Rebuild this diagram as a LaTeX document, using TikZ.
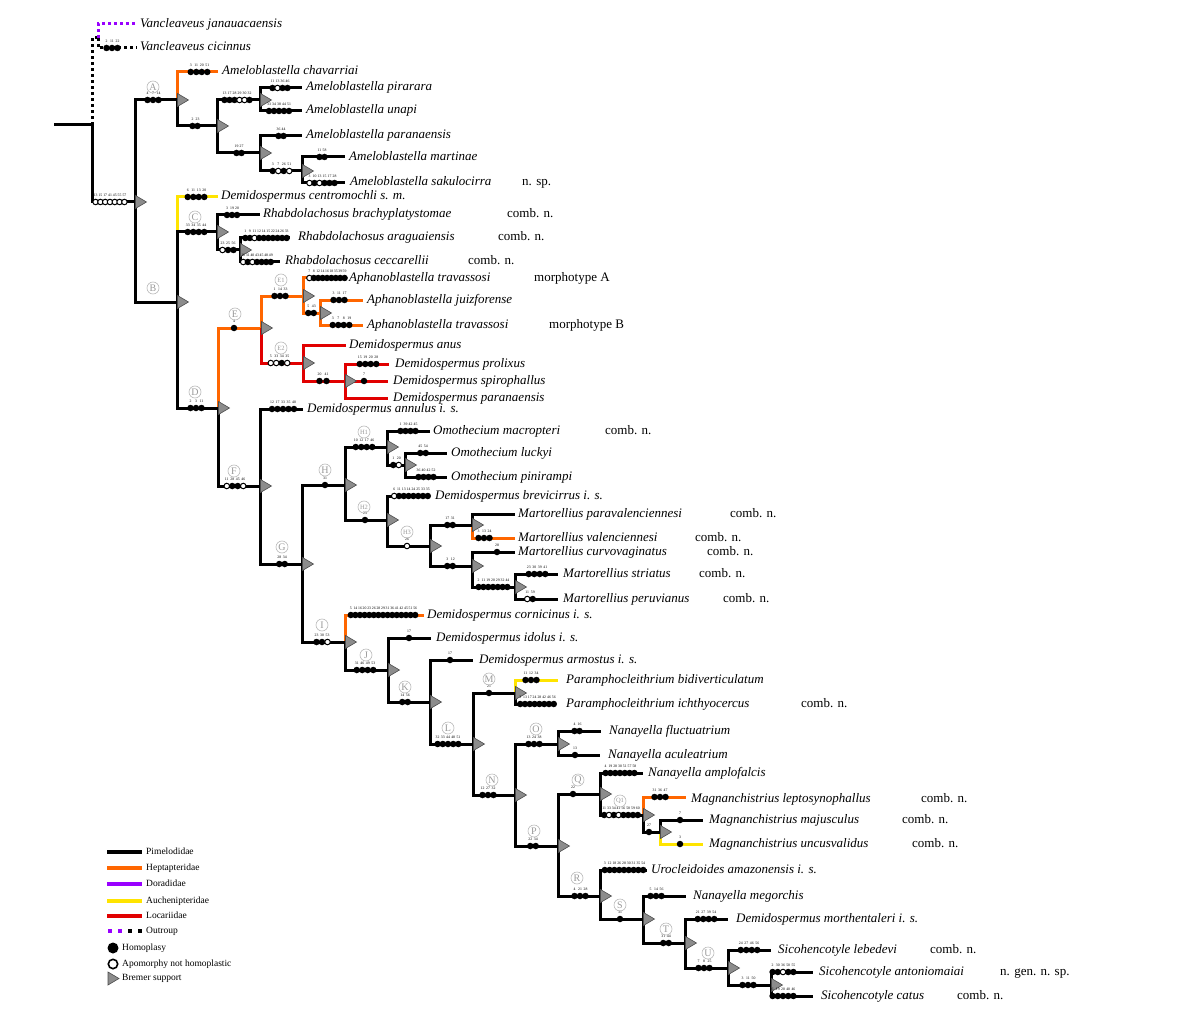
\documentclass[tikz,border=0pt]{standalone}
\usepackage{fontspec}
\setmainfont{Liberation Serif}
\usetikzlibrary{positioning}
\definecolor{hep}{RGB}{255,102,0}
\definecolor{dor}{RGB}{153,0,255}
\definecolor{auc}{RGB}{255,228,0}
\definecolor{loc}{RGB}{225,0,0}
\newcommand\charmarks[4]{%
  \foreach \t/\l [count=\k] in {#4}{\xdef\chrn{\k}}%
  \foreach \t/\l [count=\k] in {#4}{%
    \pgfmathsetmacro\cx{#1+(\k-(\chrn+1)/2)*#3}%
    \node[mk\t] at (\cx,#2) {};
    \node[num] at (\cx,#2-7) {\l};
  }}
\newcommand\brem[1]{\path[bremer] (#1) ++(0.5,-6.5) -- ++(11,6.5) -- ++(-11,6.5) -- cycle;}
\begin{document}
\begin{tikzpicture}[x=1pt,y=-1pt,
 br/.style={line width=3pt,black},
 hp/.style={line width=3pt,hep},
 ye/.style={line width=3pt,auc},
 lc/.style={line width=3pt,loc},
 ogb/.style={line width=3pt,black,dash pattern=on 3pt off 3pt},
 ogp/.style={line width=3pt,dor,dash pattern=on 3pt off 3pt},
 taxon/.style={anchor=west,inner sep=0pt,text height=9pt,text depth=3pt,font=\fontsize{13}{13}\selectfont\itshape},
 note/.style={anchor=west,inner sep=0pt,text height=9pt,text depth=3pt,font=\fontsize{13}{13}\selectfont},
 legt/.style={anchor=west,inner sep=0pt,text height=7pt,text depth=2pt,font=\fontsize{9.5}{10}\selectfont},
 clab/.style={circle,draw=gray!55,text=gray!80,line width=0.6pt,inner sep=0pt,minimum size=12pt,font=\fontsize{10}{10}\selectfont},
 clabs/.style={clab,font=\fontsize{6.5}{7}\selectfont},
 mkf/.style={circle,fill=black,inner sep=0pt,minimum size=6.5pt},
 mko/.style={circle,draw=black,fill=white,line width=1pt,inner sep=0pt,minimum size=5.5pt},
 num/.style={inner sep=0pt,font=\fontsize{3.8}{4}\selectfont},
 bremer/.style={fill=black!45,draw=black!70,line width=0.6pt}]
\useasboundingbox (0,0) rectangle (1200,1011);
% ---------- coordinates ----------
\coordinate (stem) at (54,125);
\coordinate (root) at (92,125);
\coordinate (og) at (98,38);
\coordinate (ogJ) at (137,24);
\coordinate (ogC) at (137,48);
\coordinate (ing) at (135,202);
\coordinate (nA) at (177,100);
\coordinate (tChav) at (218,72);
\coordinate (nA2) at (217,126);
\coordinate (nA3) at (260,100);
\coordinate (tPir) at (302,88);
\coordinate (tUna) at (302,111);
\coordinate (nA4) at (260,153);
\coordinate (tPara) at (302,136);
\coordinate (nA5) at (302,171);
\coordinate (tMart) at (345,157);
\coordinate (tSak) at (345,183);
\coordinate (nB) at (177,302);
\coordinate (tCent) at (218,197);
\coordinate (nC) at (217,232);
\coordinate (tBrach) at (260,215);
\coordinate (nC2) at (240,250);
\coordinate (tArag) at (290,238);
\coordinate (tCecc) at (280,262);
\coordinate (nD) at (218,408);
\coordinate (nE) at (261,328);
\coordinate (nE1) at (303,296);
\coordinate (tTravA) at (347,278);
\coordinate (nE1b) at (320,313);
\coordinate (tJuiz) at (363,300);
\coordinate (tTravB) at (363,325);
\coordinate (nE2) at (303,363);
\coordinate (tAnus) at (346,345);
\coordinate (nE3) at (345,381);
\coordinate (tProl) at (389,364);
\coordinate (tSpir) at (388,381);
\coordinate (tDpar) at (388,398);
\coordinate (nF) at (260,486);
\coordinate (tAnn) at (303,409);
\coordinate (nG) at (302,564);
\coordinate (nH) at (345,485);
\coordinate (nH1) at (387,447);
\coordinate (tMacr) at (430,431);
\coordinate (nH1b) at (405,465);
\coordinate (tLuck) at (447,453);
\coordinate (tPini) at (447,477);
\coordinate (nH2) at (387,520);
\coordinate (tBrev) at (430,496);
\coordinate (nH3) at (430,546);
\coordinate (nM1) at (472,525);
\coordinate (tParav) at (515,514);
\coordinate (tVal) at (515,538);
\coordinate (nM2) at (472,566);
\coordinate (tCurv) at (515,552);
\coordinate (nM3) at (515,587);
\coordinate (tStri) at (558,574);
\coordinate (tPeru) at (558,599);
\coordinate (nI) at (345,642);
\coordinate (tCorn) at (424,615);
\coordinate (nJ) at (388,670);
\coordinate (tIdol) at (431,638);
\coordinate (nK) at (430,702);
\coordinate (tArmo) at (473,660);
\coordinate (nL) at (473,744);
\coordinate (nM) at (515,693);
\coordinate (tBidi) at (558,680);
\coordinate (tIcht) at (555,704);
\coordinate (nN) at (515,795);
\coordinate (nO) at (558,744);
\coordinate (tFluc) at (601,731);
\coordinate (tAcul) at (600,755);
\coordinate (nP) at (558,846);
\coordinate (nQ) at (600,794);
\coordinate (tAmpl) at (643,773);
\coordinate (nQ1) at (643,815);
\coordinate (tLept) at (686,797);
\coordinate (nQ2) at (660,832);
\coordinate (tMaju) at (703,820);
\coordinate (tUncu) at (703,844);
\coordinate (nR) at (600,896);
\coordinate (tAmaz) at (647,870);
\coordinate (nS) at (643,919);
\coordinate (tMego) at (686,896);
\coordinate (nT) at (685,943);
\coordinate (tMort) at (728,919);
\coordinate (nU) at (728,968);
\coordinate (tLebe) at (771,950);
\coordinate (nU2) at (771,985);
\coordinate (tAnto) at (813,972);
\coordinate (tCatu) at (813,996);
% ---------- outgroup ----------
\draw[ogb] (root) |- (og);
\draw[ogp] (og) |- (ogJ);
\draw[ogb] (og) |- (ogC);
\draw[br] (stem) -- (root);
\draw[br] (root) |- (ing);
% ---------- coloured branches first ----------
\draw[hp] (nA) |- (tChav);
\draw[ye] (nB) |- (tCent);
\draw[hp] (nD) |- (nE);
\draw[hp] (nE) |- (nE1);
\draw[lc] (nE) |- (nE2);
\draw[hp] (nE1) |- (tTravA);
\draw[hp] (nE1) |- (nE1b);
\draw[hp] (nE1b) |- (tJuiz);
\draw[hp] (nE1b) |- (tTravB);
\draw[lc] (nE2) |- (tAnus);
\draw[lc] (nE2) |- (nE3);
\draw[lc] (nE3) |- (tProl);
\draw[lc] (nE3) |- (tSpir);
\draw[lc] (nE3) |- (tDpar);
\draw[hp] (nM1) |- (tVal);
\draw[hp] (nI) |- (tCorn);
\draw[ye] (nM) |- (tBidi);
\draw[hp] (nQ1) |- (tLept);
\draw[ye] (nQ2) |- (tUncu);
% ---------- black branches ----------
\draw[br] (ing) |- (nA);
\draw[br] (ing) |- (nB);
\draw[br] (nA) |- (nA2);
\draw[br] (nA2) |- (nA3);
\draw[br] (nA3) |- (tPir);
\draw[br] (nA3) |- (tUna);
\draw[br] (nA2) |- (nA4);
\draw[br] (nA4) |- (tPara);
\draw[br] (nA4) |- (nA5);
\draw[br] (nA5) |- (tMart);
\draw[br] (nA5) |- (tSak);
\draw[br] (nB) |- (nC);
\draw[br] (nC) |- (tBrach);
\draw[br] (nC) |- (nC2);
\draw[br] (nC2) |- (tArag);
\draw[br] (nC2) |- (tCecc);
\draw[br] (nB) |- (nD);
\draw[br] (nD) |- (nF);
\draw[br] (nF) |- (tAnn);
\draw[br] (nF) |- (nG);
\draw[br] (nG) |- (nH);
\draw[br] (nH) |- (nH1);
\draw[br] (nH1) |- (tMacr);
\draw[br] (nH1) |- (nH1b);
\draw[br] (nH1b) |- (tLuck);
\draw[br] (nH1b) |- (tPini);
\draw[br] (nH) |- (nH2);
\draw[br] (nH2) |- (tBrev);
\draw[br] (nH2) |- (nH3);
\draw[br] (nH3) |- (nM1);
\draw[br] (nM1) |- (tParav);
\draw[br] (nH3) |- (nM2);
\draw[br] (nM2) |- (tCurv);
\draw[br] (nM2) |- (nM3);
\draw[br] (nM3) |- (tStri);
\draw[br] (nM3) |- (tPeru);
\draw[br] (nG) |- (nI);
\draw[br] (nI) |- (nJ);
\draw[br] (nJ) |- (tIdol);
\draw[br] (nJ) |- (nK);
\draw[br] (nK) |- (tArmo);
\draw[br] (nK) |- (nL);
\draw[br] (nL) |- (nM);
\draw[br] (nM) |- (tIcht);
\draw[br] (nL) |- (nN);
\draw[br] (nN) |- (nO);
\draw[br] (nO) |- (tFluc);
\draw[br] (nO) |- (tAcul);
\draw[br] (nN) |- (nP);
\draw[br] (nP) |- (nQ);
\draw[br] (nQ) |- (tAmpl);
\draw[br] (nQ) |- (nQ1);
\draw[br] (nQ1) |- (nQ2);
\draw[br] (nQ2) |- (tMaju);
\draw[br] (nP) |- (nR);
\draw[br] (nR) |- (tAmaz);
\draw[br] (nR) |- (nS);
\draw[br] (nS) |- (tMego);
\draw[br] (nS) |- (nT);
\draw[br] (nT) |- (tMort);
\draw[br] (nT) |- (nU);
\draw[br] (nU) |- (tLebe);
\draw[br] (nU) |- (nU2);
\draw[br] (nU2) |- (tAnto);
\draw[br] (nU2) |- (tCatu);
% ---------- Bremer triangles ----------
\foreach \c in {ing,nA,nA2,nA3,nA4,nA5,nB,nC,nC2,nD,nE,nE1,nE1b,nE2,nE3,nF,nG,nH,nH1,nH1b,nH2,nH3,nM1,nM2,nM3,nI,nJ,nK,nL,nM,nN,nO,nP,nQ,nQ1,nQ2,nR,nS,nT,nU,nU2}{\brem{\c}}
% ---------- character marks ----------
\charmarks{112}{48}{5.5}{f/2,f/11,f/22}
\charmarks{110}{202}{4.8}{o/13,o/15,o/17,o/41,o/45,o/55,o/57}
\charmarks{153}{100}{5.5}{f/4,f/7,f/14}
\charmarks{199}{72}{5.5}{f/3,f/11,f/20,f/51}
\charmarks{195}{126}{5}{f/2,f/23}
\charmarks{237}{100}{5}{f/13,f/17,f/28,o/29,o/30,f/32}
\charmarks{280}{88}{5}{f/11,o/13,f/36,f/46}
\charmarks{279}{111}{5}{f/33,f/34,f/38,f/44,f/51}
\charmarks{239}{153}{5}{f/19,f/27}
\charmarks{281}{136}{5}{f/36,f/44}
\charmarks{281}{171}{5.5}{f/3,o/7,f/26,o/51}
\charmarks{322}{157}{5}{f/11,f/58}
\charmarks{322}{183}{5}{o/3,f/10,o/13,f/15,f/17,f/28}
\charmarks{196}{197}{5.5}{f/6,f/11,f/13,f/20}
\charmarks{196}{232}{5.5}{f/33,f/34,f/35,f/44}
\charmarks{232}{215}{5}{f/3,f/19,f/20}
\charmarks{228}{250}{5.5}{o/23,f/25,f/56}
\charmarks{266}{238}{4.6}{f/1,f/9,o/11,f/12,f/14,f/15,f/22,f/24,f/26,f/33}
\charmarks{257}{262}{4.6}{o/16,f/31,o/40,f/43,f/45,f/48,f/49}
\charmarks{196}{408}{5.5}{f/2,f/3,f/11}
\charmarks{234}{328}{5}{f/4}
\charmarks{280}{296}{5.5}{f/1,f/14,f/33}
\charmarks{327}{278}{4.4}{o/7,f/8,f/12,f/14,f/16,f/18,f/35,f/39,f/59}
\charmarks{311}{313}{5.5}{f/5,f/43}
\charmarks{339}{300}{5.5}{f/3,f/11,f/17}
\charmarks{341}{325}{5.5}{f/3,f/7,f/8,f/19}
\charmarks{279}{363}{5.5}{o/5,o/33,f/34,o/35}
\charmarks{323}{381}{7}{f/20,f/41}
\charmarks{368}{364}{5.5}{f/15,f/19,f/20,f/28}
\charmarks{364}{381}{5}{f/7}
\charmarks{235}{486}{5.5}{o/11,f/28,f/45,o/46}
\charmarks{283}{409}{5.5}{f/12,f/17,f/33,f/35,f/40}
\charmarks{282}{564}{5.5}{f/28,f/34}
\charmarks{325}{485}{5}{f/31}
\charmarks{364}{447}{5.5}{f/10,f/12,f/17,f/46}
\charmarks{408}{431}{5}{f/1,f/39,f/42,f/45}
\charmarks{396}{465}{5.5}{f/1,o/20}
\charmarks{423}{453}{5.5}{f/45,f/54}
\charmarks{426}{477}{5}{f/36,f/40,f/42,f/52}
\charmarks{365}{520}{5}{f/23}
\charmarks{411}{496}{4.8}{o/6,f/11,f/13,f/14,f/24,f/25,f/33,f/35}
\charmarks{407}{546}{5}{o/26}
\charmarks{450}{525}{5.5}{f/17,f/31}
\charmarks{484}{538}{5.5}{f/3,f/13,f/24}
\charmarks{450}{566}{5.5}{f/3,f/12}
\charmarks{497}{552}{5}{f/28}
\charmarks{493}{587}{4.8}{f/2,f/11,f/19,f/20,f/29,f/32,f/44}
\charmarks{537}{574}{5.5}{f/23,f/30,f/39,f/41}
\charmarks{530}{599}{5.5}{o/11,f/59}
\charmarks{322}{642}{5.5}{f/23,f/30,o/53}
\charmarks{383}{615}{4.6}{f/5,f/14,f/16,f/20,f/23,f/26,f/28,f/29,f/31,f/36,f/41,f/42,f/45,f/51,f/56}
\charmarks{365}{670}{5.5}{f/31,f/46,f/49,f/53}
\charmarks{409}{638}{5}{f/17}
\charmarks{405}{702}{5.5}{f/14,f/56}
\charmarks{450}{660}{5}{f/17}
\charmarks{448}{744}{5.2}{f/32,f/33,f/44,f/48,f/51}
\charmarks{489}{693}{5}{f/21}
\charmarks{531}{680}{5.5}{f/11,f/12,f/34}
\charmarks{537}{704}{4.8}{f/3,f/13,f/17,f/24,f/28,f/42,f/46,f/56}
\charmarks{534}{744}{5.5}{f/13,f/24,f/38}
\charmarks{577}{731}{5}{f/4,f/16}
\charmarks{575}{755}{5}{f/13}
\charmarks{488}{795}{5.5}{f/12,f/27,f/32}
\charmarks{533}{846}{5.5}{f/22,f/34}
\charmarks{573}{794}{5}{f/22}
\charmarks{620}{773}{4.8}{f/4,f/19,f/28,f/30,f/51,f/57,f/58}
\charmarks{621}{815}{4.8}{f/11,o/33,f/34,o/41,f/56,f/58,f/59,f/60}
\charmarks{660}{797}{5.5}{f/31,f/36,f/47}
\charmarks{649}{832}{5}{f/27}
\charmarks{680}{820}{5}{f/7}
\charmarks{680}{844}{5}{f/3}
\charmarks{580}{896}{5.5}{f/4,f/21,f/28}
\charmarks{624}{870}{4.8}{f/3,f/12,f/18,f/26,f/28,f/30,f/31,f/35,f/54}
\charmarks{620}{919}{5}{f/31}
\charmarks{656}{896}{5.5}{f/5,f/14,f/56}
\charmarks{666}{943}{5.5}{f/31,f/44}
\charmarks{706}{919}{5.5}{f/21,f/27,f/39,f/54}
\charmarks{704}{968}{5.5}{f/7,f/8,f/25}
\charmarks{749}{950}{5.5}{f/24,f/27,f/46,f/56}
\charmarks{748}{985}{5.5}{f/3,f/11,f/50}
\charmarks{783}{972}{5.2}{f/2,f/30,o/36,f/50,f/55}
\charmarks{783}{996}{5.2}{f/6,f/19,f/20,f/40,f/46}
% ---------- clade letters ----------
\node[clab] (cA) at (153,87) {A};
\node[clab] (cB) at (153,288) {B};
\node[clab] (cC) at (195,217) {C};
\node[clab] (cD) at (195,392) {D};
\node[clab] (cE) at (235,314) {E};
\node[clabs] (cE1) at (281,280) {E1};
\node[clabs] (cE2) at (281,348) {E2};
\node[clab] (cF) at (234,471) {F};
\node[clab] (cG) at (282,547) {G};
\node[clab] (cH) at (325,470) {H};
\node[clabs] (cH1) at (364,432) {H1};
\node[clabs] (cH2) at (364,507) {H2};
\node[clabs] (cH3) at (407,532) {H3};
\node[clab] (cI) at (322,625) {I};
\node[clab] (cJ) at (366,655) {J};
\node[clab] (cK) at (405,687) {K};
\node[clab] (cL) at (448,728) {L};
\node[clab] (cM) at (489,679) {M};
\node[clab] (cN) at (492,780) {N};
\node[clab] (cO) at (536,729) {O};
\node[clab] (cP) at (534,831) {P};
\node[clab] (cQ) at (578,780) {Q};
\node[clabs] (cQ1) at (620,801) {Q1};
\node[clab] (cR) at (577,878) {R};
\node[clab] (cS) at (620,905) {S};
\node[clab] (cT) at (666,929) {T};
\node[clab] (cU) at (708,953) {U};
% ---------- taxon labels ----------
\node[taxon] (lJan) at (140,25) {Vancleaveus janauacaensis};
\node[taxon] (lCic) at (140,48) {Vancleaveus cicinnus};
\node[taxon] (lChav) at (222,72) {Ameloblastella chavarriai};
\node[taxon] (lPir) at (306,88) {Ameloblastella pirarara};
\node[taxon] (lUna) at (306,111) {Ameloblastella unapi};
\node[taxon] (lPara) at (306,136) {Ameloblastella paranaensis};
\node[taxon] (lMart) at (349,158) {Ameloblastella martinae};
\node[taxon] (lSak) at (350,183) {Ameloblastella sakulocirra};
\node[note] (nSak) at (522,183) {n. sp.};
\node[taxon] (lCent) at (221,197) {Demidospermus centromochli s. m.};
\node[taxon] (lBrach) at (263,215) {Rhabdolachosus brachyplatystomae};
\node[note] (nBrach) at (507,215) {comb. n.};
\node[taxon] (lArag) at (298,238) {Rhabdolachosus araguaiensis};
\node[note] (nArag) at (498,238) {comb. n.};
\node[taxon] (lCecc) at (285,262) {Rhabdolachosus ceccarellii};
\node[note] (nCecc) at (468,262) {comb. n.};
\node[taxon] (lTravA) at (349,278) {Aphanoblastella travassosi};
\node[note] (nTravA) at (534,278) {morphotype A};
\node[taxon] (lJuiz) at (367,300) {Aphanoblastella juizforense};
\node[taxon] (lTravB) at (367,325) {Aphanoblastella travassosi};
\node[note] (nTravB) at (549,325) {morphotype B};
\node[taxon] (lAnus) at (349,345) {Demidospermus anus};
\node[taxon] (lProl) at (395,364) {Demidospermus prolixus};
\node[taxon] (lSpir) at (393,381) {Demidospermus spirophallus};
\node[taxon] (lDpar) at (393,398) {Demidospermus paranaensis};
\node[taxon] (lAnn) at (307,409) {Demidospermus annulus i. s.};
\node[taxon] (lMacr) at (433,431) {Omothecium macropteri};
\node[note] (nMacr) at (605,431) {comb. n.};
\node[taxon] (lLuck) at (451,453) {Omothecium luckyi};
\node[taxon] (lPini) at (451,477) {Omothecium pinirampi};
\node[taxon] (lBrev) at (435,496) {Demidospermus brevicirrus i. s.};
\node[taxon] (lParav) at (518,514) {Martorellius paravalenciennesi};
\node[note] (nParav) at (730,514) {comb. n.};
\node[taxon] (lVal) at (518,538) {Martorellius valenciennesi};
\node[note] (nVal) at (695,538) {comb. n.};
\node[taxon] (lCurv) at (518,552) {Martorellius curvovaginatus};
\node[note] (nCurv) at (707,552) {comb. n.};
\node[taxon] (lStri) at (563,574) {Martorellius striatus};
\node[note] (nStri) at (699,574) {comb. n.};
\node[taxon] (lPeru) at (563,599) {Martorellius peruvianus};
\node[note] (nPeru) at (723,599) {comb. n.};
\node[taxon] (lCorn) at (427,615) {Demidospermus cornicinus i. s.};
\node[taxon] (lIdol) at (436,638) {Demidospermus idolus i. s.};
\node[taxon] (lArmo) at (479,660) {Demidospermus armostus i. s.};
\node[taxon] (lBidi) at (566,680) {Paramphocleithrium bidiverticulatum};
\node[taxon] (lIcht) at (566,704) {Paramphocleithrium ichthyocercus};
\node[note] (nIcht) at (801,704) {comb. n.};
\node[taxon] (lFluc) at (609,731) {Nanayella fluctuatrium};
\node[taxon] (lAcul) at (608,755) {Nanayella aculeatrium};
\node[taxon] (lAmpl) at (648,773) {Nanayella amplofalcis};
\node[taxon] (lLept) at (691,799) {Magnanchistrius leptosynophallus};
\node[note] (nLept) at (921,799) {comb. n.};
\node[taxon] (lMaju) at (709,820) {Magnanchistrius majusculus};
\node[note] (nMaju) at (902,820) {comb. n.};
\node[taxon] (lUncu) at (709,844) {Magnanchistrius uncusvalidus};
\node[note] (nUncu) at (912,844) {comb. n.};
\node[taxon] (lAmaz) at (651,870) {Urocleidoides amazonensis i. s.};
\node[taxon] (lMego) at (693,896) {Nanayella megorchis};
\node[taxon] (lMort) at (736,919) {Demidospermus morthentaleri i. s.};
\node[taxon] (lLebe) at (778,950) {Sicohencotyle lebedevi};
\node[note] (nLebe) at (930,950) {comb. n.};
\node[taxon] (lAnto) at (819,972) {Sicohencotyle antoniomaiai};
\node[note] (nAnto) at (1000,972) {n. gen. n. sp.};
\node[taxon] (lCatu) at (821,996) {Sicohencotyle catus};
\node[note] (nCatu) at (957,996) {comb. n.};
% ---------- legend ----------
\draw[line width=4pt,black] (107,852) -- (142,852);
\node[legt] (g1) at (146,852) {Pimelodidae};
\draw[line width=4pt,hep] (107,868) -- (142,868);
\node[legt] (g2) at (146,868) {Heptapteridae};
\draw[line width=4pt,dor] (107,884) -- (142,884);
\node[legt] (g3) at (146,884) {Doradidae};
\draw[line width=4pt,auc] (107,901) -- (142,901);
\node[legt] (g4) at (146,901) {Auchenipteridae};
\draw[line width=4pt,loc] (107,916) -- (142,916);
\node[legt] (g5) at (146,916) {Locariidae};
\fill[dor] (108,929) rectangle (112,933);
\fill[dor] (118,929) rectangle (122,933);
\fill[black] (128,929) rectangle (132,933);
\fill[black] (138,929) rectangle (142,933);
\node[legt] (g6) at (146,931) {Outroup};
\fill[black] (113,948) circle (5.5);
\node[legt] (g7) at (122,948) {Homoplasy};
\draw[black,line width=1.6pt,fill=white] (113,964) circle (4.7);
\node[legt] (g8) at (122,964) {Apomorphy not homoplastic};
\path[bremer] (108,972) -- (119,978.5) -- (108,985) -- cycle;
\node[legt] (g9) at (122,978) {Bremer support};
\end{tikzpicture}
\end{document}
